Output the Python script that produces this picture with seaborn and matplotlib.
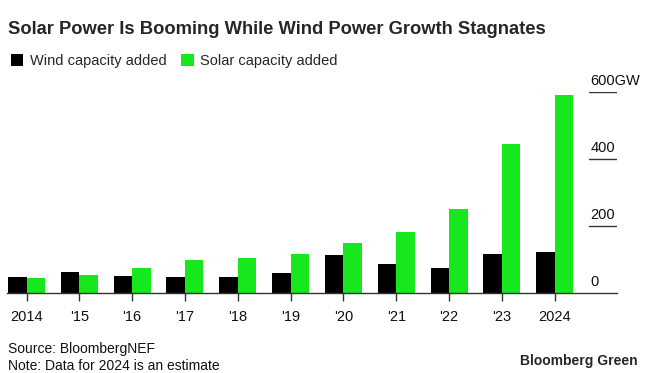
import matplotlib
matplotlib.use("Agg")
import matplotlib.pyplot as plt
from matplotlib.patches import Patch
import seaborn as sns
import pandas as pd

years = ["2014", "'15", "'16", "'17", "'18", "'19", "'20", "'21", "'22", "'23", "2024"]
wind_gw = [48, 64, 51, 49, 50, 61, 114, 88, 76, 117, 123]
solar_gw = [45, 55, 75, 100, 106, 118, 150, 183, 251, 445, 593]
series = ["Wind capacity added", "Solar capacity added"]
y_ticks = [0, 200, 400, 600]
y_tick_labels = ["0", "200", "400", "600GW"]

colors = {"Wind capacity added": "#000000", "Solar capacity added": "#16e81d"}

df = pd.DataFrame({
    "year": years * 2,
    "gw": wind_gw + solar_gw,
    "series": [series[0]] * len(years) + [series[1]] * len(years),
})

sns.set_style("white")
plt.rcParams["font.family"] = ["Liberation Sans", "DejaVu Sans"]

W, H = 649, 373
fig = plt.figure(figsize=(W / 100, H / 100), dpi=100)
ax = fig.add_axes([7 / W, 1 - 293.3 / H, 610 / W, 201 / H])

sns.barplot(data=df, x="year", y="gw", hue="series", order=years,
            hue_order=series, palette=colors, width=0.7, saturation=1,
            linewidth=0, legend=False, ax=ax)

ax.set_xlim(-0.37, 11.18)
ax.set_ylim(0, 600)
ax.set_xlabel("")
ax.set_ylabel("")
ax.set_yticks([])
for s in ["top", "left", "right"]:
    ax.spines[s].set_visible(False)
ax.spines["bottom"].set_color("#333333")
ax.spines["bottom"].set_linewidth(1)
ax.tick_params(axis="x", length=6, width=1, color="#333333", labelsize=10.5,
               pad=6, labelcolor="#111111", bottom=True)

# value labels on the right, with short rules under them
for v, lab in zip(y_ticks, y_tick_labels):
    if v > 0:
        ax.axhline(v, xmin=0.954, xmax=1.0, color="#333333", lw=1)
    ax.annotate(lab, xy=(0.956, v), xycoords=("axes fraction", "data"),
                xytext=(0, 5), textcoords="offset points",
                ha="left", va="baseline", fontsize=10.5, color="#111111")

fig.text(8 / W, 1 - 30 / H, "Solar Power Is Booming While Wind Power Growth Stagnates",
         fontsize=13.2, fontweight="bold", ha="left", va="center")

handles = [Patch(facecolor=colors[s], edgecolor="none") for s in series]
fig.legend(handles, series, loc="center left", bbox_to_anchor=(5 / W, 1 - 61 / H),
           ncol=2, frameon=False, fontsize=10.5, handlelength=0.85, handleheight=0.85,
           handletextpad=0.45, columnspacing=1.0, borderaxespad=0)

fig.text(8 / W, 1 - 349 / H, "Source: BloombergNEF", fontsize=10, ha="left", va="center",
         color="#111111")
fig.text(8 / W, 1 - 366 / H, "Note: Data for 2024 is an estimate", fontsize=10,
         ha="left", va="center", color="#111111")
fig.text(638 / W, 1 - 361 / H, "Bloomberg Green", fontsize=10, fontweight="bold",
         ha="right", va="center")

fig.savefig("out.png", dpi=100)
